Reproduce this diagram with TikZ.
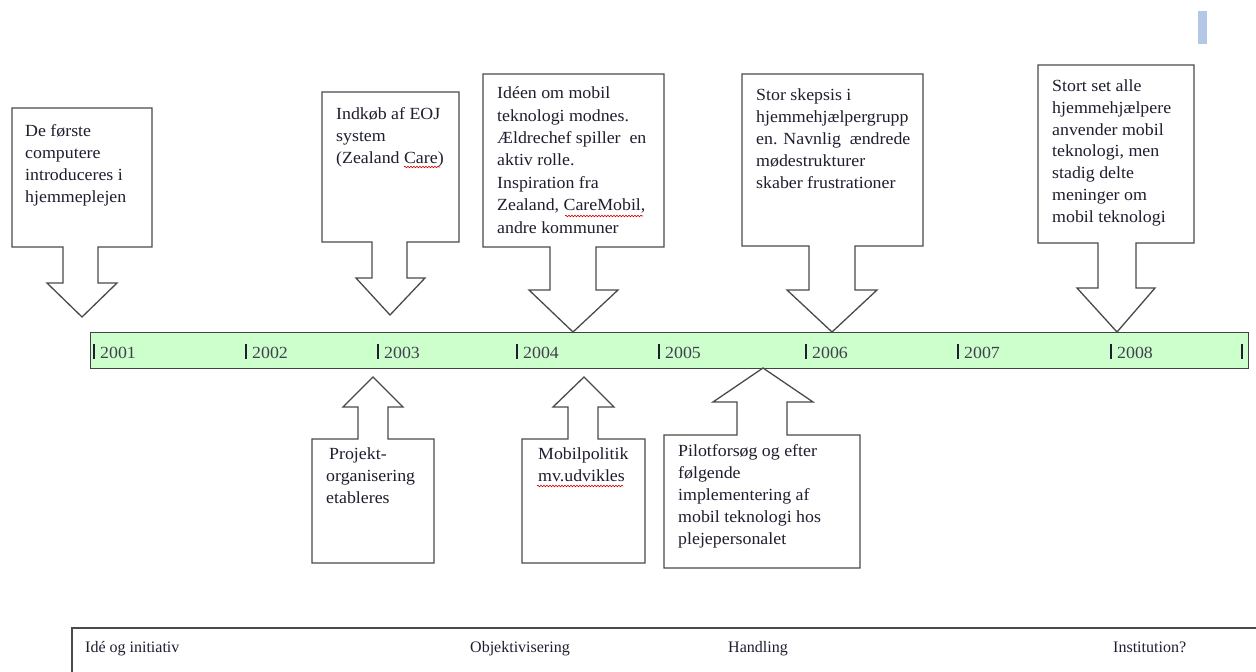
\documentclass[tikz,border=0pt]{standalone}
\usepackage{fontspec}
\setmainfont{Liberation Serif}[FakeStretch=1.05]
\newfontfamily\plainserif{Liberation Serif}
\usetikzlibrary{decorations.pathmorphing}
\definecolor{edge}{HTML}{4A4A4A}
\definecolor{ink}{HTML}{1E1E2E}
\definecolor{barfill}{HTML}{CCFFCC}
\definecolor{tabblue}{HTML}{B4C7E7}
% multi-line box texts are anchored on the baseline of their last line
\tikzset{
  callout/.style={draw=edge, line width=1.3pt, fill=white, line join=miter},
  boxtext/.style={anchor=base west, align=left, inner sep=0pt, text=ink,
    font=\fontsize{17}{22}\selectfont},
  yeartext/.style={anchor=base west, inner sep=0pt, text=ink!85,
    font=\fontsize{17}{20}\selectfont},
  phasetext/.style={anchor=base west, inner sep=0pt, text=ink,
    font=\plainserif\fontsize{16}{20}\selectfont},
  timebar/.style={draw=edge!90!black, line width=1.3pt, fill=barfill,
    anchor=north west, inner sep=0pt},
  tick/.style={draw=ink, line width=1.1pt},
  squiggle/.style={draw=red!80!black, line width=0.6pt, decorate,
    decoration={snake, amplitude=0.8pt, segment length=3pt}}
}
\begin{document}
\begin{tikzpicture}[x=1pt,y=-1pt]
\useasboundingbox (0,0) rectangle (1256,672);

% small blue tab in the upper right corner
\fill[tabblue] (1198,11) rectangle (1207,44);

% ---- time line ----
\node[timebar, minimum width=1158pt, minimum height=36pt] (bar) at (90,332) {};
\foreach \x/\yr [count=\i] in {94/2001,246/2002,378/2003,517/2004,659/2005,806/2006,958/2007,1111/2008}{
  \draw[tick] (\x,344) -- (\x,359);
  \node[yeartext] (y\i) at (\x+6,358) {\yr};
}
\draw[tick] (1242,344) -- (1242,359);

% ---- callouts above the time line (pointing down) ----
\draw[callout] (12,108) -- (152,108) -- (152,247) -- (98,247) -- (98,283)
  -- (117,283) -- (82,317) -- (47,283) -- (63,283) -- (63,247) -- (12,247) -- cycle;
\node[boxtext] (t1) at (25,202) {De første\\computere\\introduceres i\\hjemmeplejen};

\draw[callout] (322,92) -- (459,92) -- (459,242) -- (407,242) -- (407,278)
  -- (425,278) -- (390,315) -- (356,278) -- (372,278) -- (372,242) -- (322,242) -- cycle;
\node[boxtext] (t2) at (336,163) {Indkøb af EOJ\\system\\(Zealand Care)};

\draw[callout] (483,74) -- (664,74) -- (664,247) -- (596,247) -- (596,290)
  -- (618,290) -- (573,332) -- (529,290) -- (550,290) -- (550,247) -- (483,247) -- cycle;
\node[boxtext, font=\fontsize{17}{22.4}\selectfont] (t3) at (497,233)
  {Idéen om mobil\\teknologi modnes.\\Ældrechef spiller\ \ en\\aktiv rolle.\\Inspiration fra\\Zealand, CareMobil,\\andre kommuner};

\draw[callout] (742,74) -- (923,74) -- (923,246) -- (855,246) -- (855,290)
  -- (877,290) -- (832,332) -- (787,290) -- (809,290) -- (809,246) -- (742,246) -- cycle;
\node[boxtext] (t4) at (756,188) {Stor skepsis i\\hjemmehjælpergrupp\\en. Navnlig\ \ ændrede\\mødestrukturer\\skaber frustrationer};

\draw[callout] (1038,65) -- (1194,65) -- (1194,243) -- (1136,243) -- (1136,288)
  -- (1155,288) -- (1117,332) -- (1077,288) -- (1098,288) -- (1098,243) -- (1038,243) -- cycle;
\node[boxtext, font=\fontsize{17}{21.7}\selectfont] (t5) at (1052,222)
  {Stort set alle\\hjemmehjælpere\\anvender mobil\\teknologi, men\\stadig delte\\meninger om\\mobil teknologi};

% ---- callouts below the time line (pointing up) ----
\draw[callout] (312,563) -- (434,563) -- (434,439) -- (388,439) -- (388,407)
  -- (403,407) -- (373,377) -- (343,407) -- (358,407) -- (358,439) -- (312,439) -- cycle;
\node[boxtext] (t6) at (326,503) {\hspace{3pt}Projekt-\\organisering\\etableres};

\draw[callout] (522,563) -- (645,563) -- (645,439) -- (598,439) -- (598,407)
  -- (614,407) -- (584,377) -- (553,407) -- (568,407) -- (568,439) -- (522,439) -- cycle;
\node[boxtext] (t7) at (538,481) {Mobilpolitik\\mv.udvikles};

\draw[callout] (664,568) -- (860,568) -- (860,435) -- (787,435) -- (787,402)
  -- (813,402) -- (763,368) -- (713,402) -- (737,402) -- (737,435) -- (664,435) -- cycle;
\node[boxtext] (t8) at (678,544) {Pilotforsøg og efter\\følgende\\implementering af\\mobil teknologi hos\\plejepersonalet};

% spelling marks under unknown words
\draw[squiggle] (404,167) -- (440,167);
\draw[squiggle] (565,216) -- (643,216);
\draw[squiggle] (537,486) -- (623,486);

% ---- phase strip at the bottom ----
\draw[draw=edge, line width=1.6pt] (72,672) -- (72,628) -- (1256,628);
\node[phasetext] (p1) at (85,652) {Idé og initiativ};
\node[phasetext] (p2) at (470,652) {Objektivisering};
\node[phasetext] (p3) at (728,652) {Handling};
\node[phasetext] (p4) at (1113,652) {Institution?};
\end{tikzpicture}
\end{document}
